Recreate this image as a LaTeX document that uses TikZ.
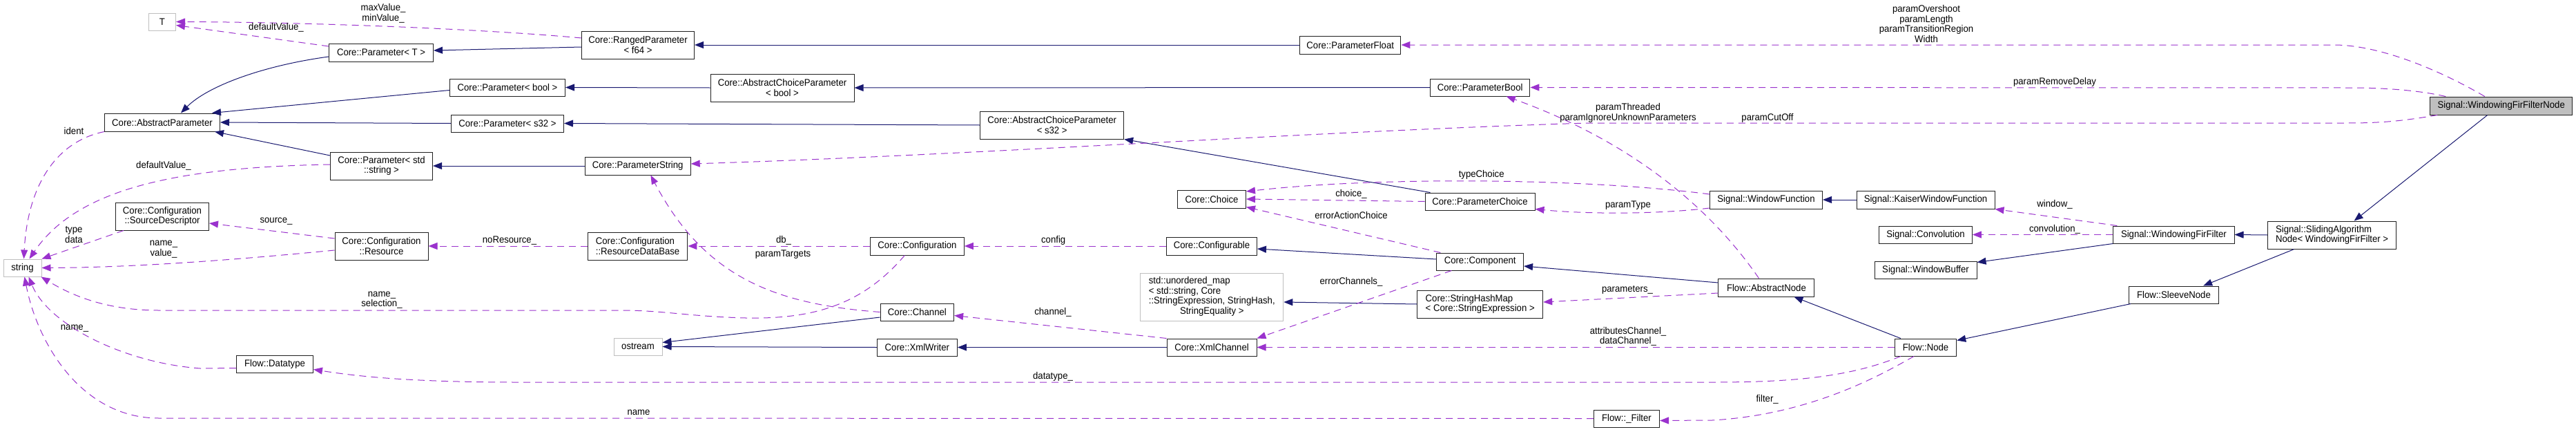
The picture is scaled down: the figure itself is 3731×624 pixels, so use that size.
\documentclass[tikz,border=0pt]{standalone}
\usepackage{fontspec}
\setmainfont{Liberation Sans}[FakeStretch=0.94]
\usetikzlibrary{arrows.meta,calc}
\definecolor{inhc}{HTML}{191970}
\definecolor{usec}{HTML}{9A32CD}
\definecolor{grayb}{HTML}{BFBFBF}
\definecolor{bord}{HTML}{202020}
\tikzset{
  cls/.style={draw=bord, line width=1pt, fill=white, rectangle, inner sep=0pt, align=center, font=\fontsize{14}{14.5}\selectfont},
  ext/.style={cls, draw=grayb},
  cur/.style={cls, fill=grayb},
  lbl/.style={inner sep=0pt, align=center, font=\fontsize{14}{14.5}\selectfont},
  inh/.style={draw=inhc, line width=1pt, -{Triangle[length=13pt,width=10pt]}},
  use/.style={draw=usec, line width=1pt, dash pattern=on 10pt off 7pt, -{Triangle[length=13pt,width=10pt]}}
}
\begin{document}
\begin{tikzpicture}[x=1pt, y=-1pt]
\useasboundingbox (0,0) rectangle (3731,624);
% ---------------- nodes
\node[ext, minimum width=39pt, minimum height=25pt] (T) at (235,31.5) {T};
\node[cls, minimum width=151pt, minimum height=26pt] (PT) at (552,76) {Core::Parameter< T >};
\node[cls, minimum width=167pt, minimum height=26pt] (AP) at (235,177) {Core::AbstractParameter};
\node[cls, minimum width=148pt, minimum height=40pt] (PStd) at (552.5,240) {Core::Parameter< std\\::string >};
\node[cls, minimum width=135pt, minimum height=40pt] (SD) at (235,313) {Core::Configuration\\::SourceDescriptor};
\node[ext, minimum width=55pt, minimum height=25pt] (str) at (32.5,387.5) {string};
\node[cls, minimum width=135pt, minimum height=40pt] (Res) at (552.5,356) {Core::Configuration\\::Resource};
\node[cls, minimum width=111pt, minimum height=25pt] (DT) at (398,526.5) {Flow::Datatype};
\node[cls, minimum width=163pt, minimum height=40pt] (RP) at (924,65) {Core::RangedParameter\\< f64 >};
\node[cls, minimum width=167pt, minimum height=25pt] (PBo) at (735,126.5) {Core::Parameter< bool >};
\node[cls, minimum width=208pt, minimum height=40pt] (ACPb) at (1133,127) {Core::AbstractChoiceParameter\\< bool >};
\node[cls, minimum width=163pt, minimum height=25pt] (PSt) at (735,178.5) {Core::Parameter< s32 >};
\node[cls, minimum width=153pt, minimum height=26pt] (PStr) at (923.7,240) {Core::ParameterString};
\node[cls, align=left, minimum width=144.5pt, minimum height=40pt] (RDB) at (923.6,356) {Core::Configuration\\::ResourceDataBase};
\node[ext, minimum width=70pt, minimum height=25pt] (ost) at (924,501.5) {ostream};
\node[cls, minimum width=208pt, minimum height=40pt] (ACPs) at (1523.7,181) {Core::AbstractChoiceParameter\\< s32 >};
\node[cls, minimum width=99pt, minimum height=26pt] (Choice) at (1755,288) {Core::Choice};
\node[cls, minimum width=135.5pt, minimum height=26pt] (Conf) at (1328.5,356) {Core::Configuration};
\node[cls, minimum width=131pt, minimum height=26pt] (Cfg) at (1755,356) {Core::Configurable};
\node[ext, minimum width=207pt, minimum height=69pt] (umap) at (1755.3,429.5) {\begin{tabular}{@{}l@{}}std::unordered\_map\\< std::string, Core\\::StringExpression, StringHash,\\\multicolumn{1}{@{}c@{}}{StringEquality >}\end{tabular}};
\node[cls, minimum width=106.5pt, minimum height=25pt] (Chan) at (1328.4,451.5) {Core::Channel};
\node[cls, minimum width=116pt, minimum height=25pt] (XW) at (1328.4,502.5) {Core::XmlWriter};
\node[cls, minimum width=130pt, minimum height=25pt] (XC) at (1755,502.5) {Core::XmlChannel};
\node[cls, minimum width=146.5pt, minimum height=26pt] (PF) at (1955.7,65) {Core::ParameterFloat};
\node[cls, minimum width=144.5pt, minimum height=25pt] (PBool) at (2143.7,126.5) {Core::ParameterBool};
\node[cls, minimum width=159pt, minimum height=25pt] (PC) at (2143.5,291.5) {Core::ParameterChoice};
\node[cls, minimum width=163pt, minimum height=26pt] (WF) at (2558,289) {Signal::WindowFunction};
\node[cls, minimum width=125.7pt, minimum height=25pt] (Comp) at (2143.7,378.5) {Core::Component};
\node[cls, align=left, minimum width=182pt, minimum height=40pt] (SHM) at (2143.7,440) {Core::StringHashMap\\< Core::StringExpression >};
\node[cls, minimum width=95pt, minimum height=25pt] (Filt) at (2356,605.5) {Flow::\_Filter};
\node[cls, minimum width=200pt, minimum height=26pt] (KWF) at (2789,289) {Signal::KaiserWindowFunction};
\node[cls, minimum width=134.7pt, minimum height=25pt] (Conv) at (2789,339.5) {Signal::Convolution};
\node[cls, minimum width=148pt, minimum height=25pt] (WB) at (2789,390.5) {Signal::WindowBuffer};
\node[cls, minimum width=139pt, minimum height=26pt] (AN) at (2558.4,416) {Flow::AbstractNode};
\node[cls, minimum width=89.4pt, minimum height=25pt] (FNode) at (2789,502.5) {Flow::Node};
\node[cls, minimum width=175.2pt, minimum height=25pt] (WFF) at (3148.4,339.5) {Signal::WindowingFirFilter};
\node[cls, minimum width=129.4pt, minimum height=25pt] (Slv) at (3148.4,426.5) {Flow::SleeveNode};
\node[cur, minimum width=206pt, minimum height=26pt] (WFFN) at (3622.7,153) {Signal::WindowingFirFilterNode};
\node[cls, align=left, minimum width=186pt, minimum height=40pt] (SAN) at (3377.6,340) {Signal::SlidingAlgorithm\\Node< WindowingFirFilter >};
% ---------------- inheritance
\draw[inh] ($(PT.west)+(0,6)$) .. controls (380,95) and (300,125) .. ($(AP.north)+(27,0)$);
\draw[inh] ($(PBo.west)+(0,4)$) -- ($(AP.north east)+(-12,0)$);
\draw[inh] (PSt.west) -- (AP.east);
\draw[inh] ($(PStd.west)+(0,-15)$) -- ($(AP.south east)+(-8,0)$);
\draw[inh] ($(RP.west)+(0,3)$) -- ($(PT.east)+(0,-3)$);
\draw[inh] (PF.west) -- (RP.east);
\draw[inh] (ACPb.west) -- (PBo.east);
\draw[inh] (PBool.west) -- (ACPb.east);
\draw[inh] (ACPs.west) -- (PSt.east);
\draw[inh] ($(PC.north west)+(8,0)$) -- (ACPs.south east);
\draw[inh] (PStr.west) -- (PStd.east);
\draw[inh] (KWF.west) -- (WF.east);
\draw[inh] ($(Comp.west)+(0,-3.5)$) -- ($(Cfg.east)+(0,4)$);
\draw[inh] (SHM.west) -- ($(umap.east)+(0,7.5)$);
\draw[inh] (XC.west) -- (XW.east);
\draw[inh] (XW.west) -- (ost.east);
\draw[inh] ($(Chan.west)+(0,7.5)$) -- ($(ost.east)+(0,-6)$);
\draw[inh] ($(AN.west)+(0,-7)$) -- ($(Comp.east)+(0,6.5)$);
\draw[inh] ($(FNode.north west)+(9,0)$) -- ($(AN.south east)+(-30,0)$);
\draw[inh] ($(Slv.south west)+(3,0)$) -- ($(FNode.east)+(0,-10)$);
\draw[inh] (WFF.south west) -- ($(WB.east)+(0,-11)$);
\draw[inh] (SAN.west) -- (WFF.east);
\draw[inh] ($(SAN.south west)+(38.6,0)$) -- ($(Slv.north east)+(-22.5,0)$);
\draw[inh] ($(WFFN.south)+(-20,0)$) -- ($(SAN.north)+(32,0)$);
% ---------------- usage
\draw[use] ($(RP.west)+(0,-10)$) .. controls (700,42) and (450,32) .. (T.east);
\draw[use] ($(PT.west)+(0,-9)$) -- ($(T.east)+(0,5)$);
\draw[use] ($(PStd.west)+(0,-2)$) .. controls (250,242) and (110,275) .. ($(str.north)+(10,0)$);
\draw[use] (AP.south west) .. controls (80,205) and (40,270) .. ($(str.north)+(2,0)$);
\draw[use] ($(SD.south west)+(12,0)$) -- (str.north east);
\draw[use] ($(Res.west)+(0,-11)$) -- ($(SD.east)+(0,10)$);
\draw[use] ($(Res.west)+(0,6)$) .. controls (350,375) and (200,387) .. (str.east);
\draw[use] (RDB.west) -- (Res.east);
\draw[use] (Conf.west) -- (RDB.east);
\draw[use] ($(Conf.south west)+(50,0)$) .. controls (1250,440) and (1180,462) .. (1080,460) .. controls (1000,458) and (960,449) .. (900,449) -- (230,449) .. controls (150,449) and (100,425) .. ($(str.south east)+(-1,0)$);
\draw[use] (Cfg.west) -- (Conf.east);
\draw[use] (XC.north west) -- ($(Chan.east)+(0,5)$);
\draw[use] (Chan.west) .. controls (1120,440) and (1020,400) .. ($(PStr.south)+(18.7,0)$);
\draw[use] ($(Comp.north west)+(6,0)$) -- ($(Choice.south east)+(0,-2)$);
\draw[use] (PC.west) -- (Choice.east);
\draw[use] ($(WF.west)+(0,-8)$) .. controls (2300,258) and (2000,255) .. ($(Choice.east)+(0,-11)$);
\draw[use] ($(WF.west)+(0,12)$) .. controls (2400,310) and (2300,310) .. ($(PC.east)+(0,11)$);
\draw[use] ($(AN.north)+(-11,0)$) .. controls (2470,290) and (2350,200) .. ($(PBool.south)+(38,0)$);
\draw[use] ($(WFFN.north)+(-24,0)$) .. controls (3540,105) and (3450,65) .. (3380,65) -- (PF.east);
\draw[use] ($(WFFN.north west)+(23,0)$) .. controls (3500,130) and (3450,127) .. (3400,127) -- (PBool.east);
\draw[use] ($(WFFN.south west)+(11,0)$) .. controls (3480,175) and (3450,178) .. (3400,178) -- (2300,178) .. controls (1900,190) and (1400,225) .. ($(PStr.east)+(0,-3)$);
\draw[use] ($(WFF.north west)+(6,0)$) -- (KWF.south east);
\draw[use] (WFF.west) -- (Conv.east);
\draw[use] ($(AN.west)+(0,8)$) -- ($(SHM.east)+(0,-3)$);
\draw[use] (FNode.west) -- (XC.east);
\draw[use] ($(Comp.south west)+(22,0)$) -- (XC.north east);
\draw[use] ($(FNode.south west)+(9,0)$) .. controls (2680,545) and (2600,553) .. (2480,553) -- (750,553) .. controls (600,553) and (520,545) .. ($(DT.east)+(0,8)$);
\draw[use] ($(FNode.south)+(-17,0)$) .. controls (2720,545) and (2620,600) .. (2480,608) -- ($(Filt.east)+(0,3)$);
\draw[use] (Filt.west) -- (230,605) .. controls (120,605) and (55,500) .. ($(str.south)+(3,0)$);
\draw[use] ($(DT.west)+(0,6)$) -- (290,533) .. controls (180,525) and (70,470) .. ($(str.south)+(9,0)$);
% ---------------- labels
\node[lbl] (l1) at (555,19.5) {maxValue\_\\minValue\_};
\node[lbl] (l2) at (400,40) {defaultValue\_};
\node[lbl] (l3) at (107,189) {ident};
\node[lbl] (l4) at (237,240) {defaultValue\_};
\node[lbl] (l5) at (107,339.5) {type\\data};
\node[lbl] (l6) at (400,320) {source\_};
\node[lbl] (l7) at (237,360.5) {name\_\\value\_};
\node[lbl] (l8) at (553,434) {name\_\\selection\_};
\node[lbl] (l9) at (108,475) {name\_};
\node[lbl] (l10) at (738,348) {noResource\_};
\node[lbl] (l11) at (1135,348) {db\_};
\node[lbl] (l12) at (1134,368) {paramTargets};
\node[lbl] (l13) at (925,597) {name};
\node[lbl] (l14) at (1525.7,348) {config};
\node[lbl] (l15) at (1525,452) {channel\_};
\node[lbl] (l16) at (1525,545) {datatype\_};
\node[lbl] (l17) at (2358,163.5) {paramThreaded\\paramIgnoreUnknownParameters};
\node[lbl] (l18) at (2145.7,253) {typeChoice};
\node[lbl] (l19) at (1957,281) {choice\_};
\node[lbl] (l20) at (2358,297) {paramType};
\node[lbl] (l21) at (1957,311) {errorActionChoice};
\node[lbl] (l22) at (1957,408) {errorChannels\_};
\node[lbl] (l23) at (2357,419) {parameters\_};
\node[lbl] (l24) at (2358,487) {attributesChannel\_\\dataChannel\_};
\node[lbl] (l25) at (2790,34.5) {paramOvershoot\\paramLength\\paramTransitionRegion\\Width};
\node[lbl] (l26) at (2976,119) {paramRemoveDelay};
\node[lbl] (l27) at (2560,171) {paramCutOff};
\node[lbl] (l28) at (2976,296) {window\_};
\node[lbl] (l29) at (2976,332) {convolution\_};
\node[lbl] (l30) at (2559.6,578) {filter\_};
\end{tikzpicture}
\end{document}
